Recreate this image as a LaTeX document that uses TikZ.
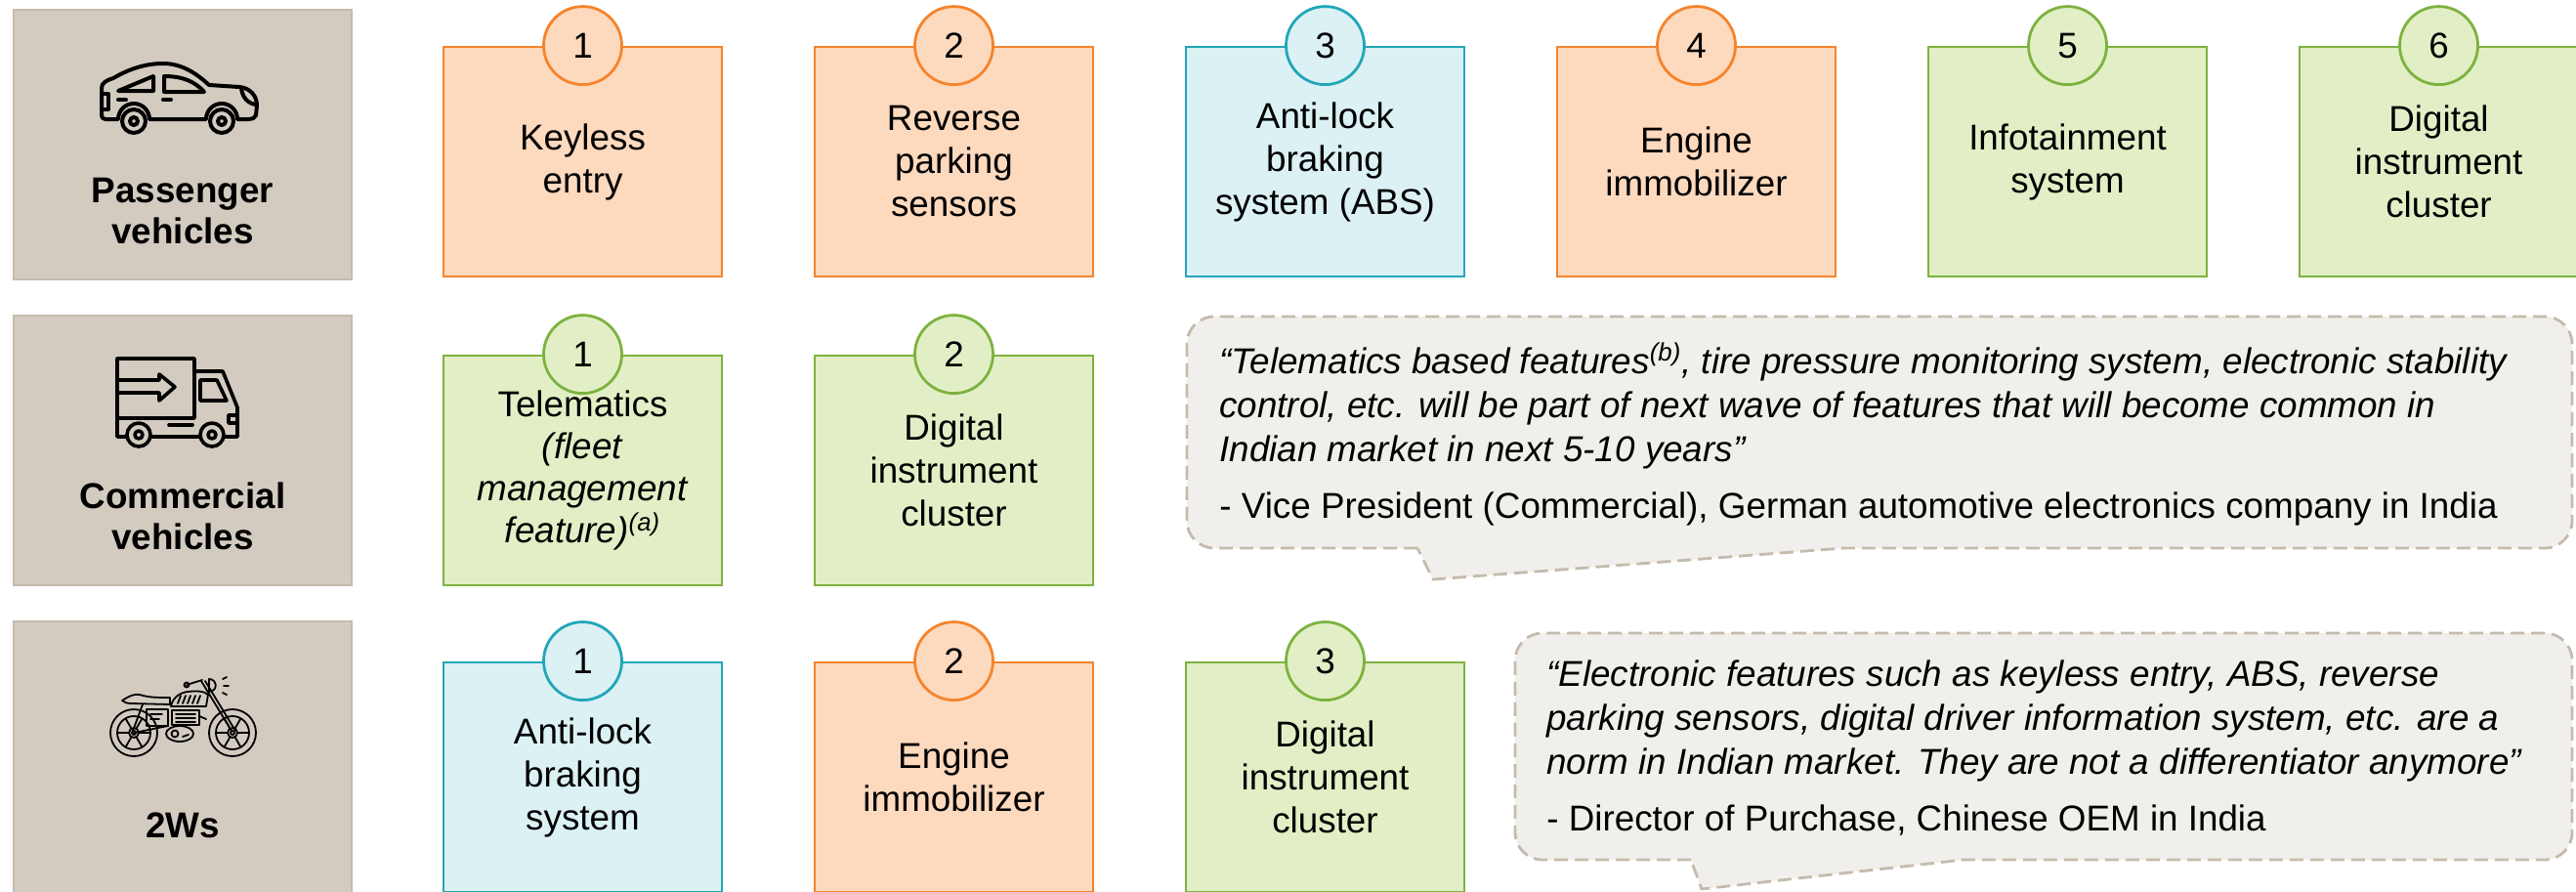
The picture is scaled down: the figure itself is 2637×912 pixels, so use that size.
\documentclass[tikz,border=0pt]{standalone}
\usepackage{fontspec}
\setmainfont{Liberation Sans}
\definecolor{catfill}{HTML}{D3CBC0}
\definecolor{catline}{HTML}{C5BBAD}
\definecolor{orfill}{HTML}{FDD9BE}
\definecolor{orline}{HTML}{F5842C}
\definecolor{blfill}{HTML}{DBF1F4}
\definecolor{blline}{HTML}{22A6B8}
\definecolor{grfill}{HTML}{E2EFC6}
\definecolor{grline}{HTML}{7DB23F}
\definecolor{qfill}{HTML}{F1EFEB}
\definecolor{qline}{HTML}{C4BBAC}
\begin{document}
\begin{tikzpicture}[x=0.5pt,y=-0.5pt,
  catbox/.style={draw=catline, fill=catfill, line width=1pt, minimum width=173pt, minimum height=138pt, inner sep=0pt},
  catlabel/.style={align=center, inner sep=0pt, font=\fontsize{18.4}{21}\selectfont\bfseries},
  feat/.style={line width=1.4pt, minimum width=142.5pt, minimum height=117.5pt, inner sep=0pt, align=center, font=\fontsize{18.4}{22}\selectfont},
  fb/.style={feat, draw=#1line, fill=#1fill},
  nc/.style={circle, line width=1.4pt, minimum size=40pt, inner sep=0pt, draw=#1line, fill=#1fill, font=\fontsize{18.4}{22}\selectfont},
  icon/.style={line width=2pt, line cap=round, line join=round},
  thinicon/.style={line width=0.9pt, line cap=round, line join=round},
  callout/.style={draw=qline, fill=qfill, line width=1.4pt, dash pattern=on 7pt off 3.5pt},
  qtext/.style={anchor=base west, inner sep=0pt, font=\fontsize{18.4}{22}\selectfont\itshape},
  qsource/.style={anchor=base west, inner sep=0pt, font=\fontsize{18.4}{22}\selectfont},
]
\useasboundingbox (0,0) rectangle (2637,912);

% ---------- category panels ----------
\node[catbox] (pv) at (187,148) {};
\node[catbox] (cv) at (187,461) {};
\node[catbox, minimum height=140pt] (tw) at (187,776) {};
\node[catlabel] (pvlabel) at (187,216) {Passenger\\vehicles};
\node[catlabel] (cvlabel) at (187,528) {Commercial\\vehicles};
\node[catlabel] (twlabel) at (187,845) {2Ws};

% car
\begin{scope}[icon]
  \draw (104,118) -- (104,90) .. controls (104,85) and (109,82) .. (116,80)
        .. controls (133,70) and (150,65) .. (167,65)
        .. controls (186,65) and (201,75) .. (214,87) -- (245,89)
        .. controls (256,90) and (263,98) .. (263,108) -- (262,118)
        .. controls (261,121) and (258,122) .. (255,122) -- (243,122)
        arc[start angle=0, end angle=-180, radius=16] -- (153,122)
        arc[start angle=0, end angle=-180, radius=16] -- (108,122)
        .. controls (105,122) and (104,120) .. (104,118);
  \draw (104,96) -- (111,96) -- (111,112) -- (104,112);
  \draw (121,93) -- (157,78) -- (157,93) -- cycle;
  \draw (168,78) -- (168,94) -- (209,94) .. controls (200,84) and (188,78) .. (168,78);
  \draw (121,102) -- (129,102);
  \draw (167,102) -- (175,102);
  \draw (247,90) .. controls (248,100) and (254,106) .. (262,107);
  \draw (137,124) circle[radius=12];
  \draw (137,124) circle[radius=4];
  \draw (227,124) circle[radius=12];
  \draw (227,124) circle[radius=4];
\end{scope}

% truck
\begin{scope}[icon, line width=1.8pt]
  \draw (120,367) rectangle (199,428);
  \draw (120,428) -- (120,447) -- (243,447) -- (243,417) -- (228,380) -- (199,380);
  \draw (120,389) -- (163,389) -- (163,383) -- (179,396) -- (163,410) -- (163,402) -- (120,402);
  \draw (205,389) -- (222,389) -- (232,410) -- (205,410) -- cycle;
  \draw (234,425) -- (243,425) -- (243,433) -- (234,433) -- cycle;
  \draw (173,435) -- (197,435);
  \draw[fill=catfill] (142,445) circle[radius=12];
  \draw (142,445) circle[radius=4];
  \draw[fill=catfill] (217,445) circle[radius=12];
  \draw (217,445) circle[radius=4];
\end{scope}

% motorcycle
\begin{scope}[thinicon]
  \foreach \cx in {137,238} {
    \draw (\cx,750) circle[radius=24];
    \draw (\cx,750) circle[radius=17];
    \draw (\cx,750) circle[radius=5];
    \draw (\cx,750) circle[radius=2];
    \foreach \a in {0,60,...,300} {
      \draw (\cx,750) ++(\a:5) -- ++(\a:12);
    }
  }
  % seat
  \draw (125,717) .. controls (133,712) and (138,710) .. (143,711)
        .. controls (152,714) and (162,714) .. (174,714) -- (174,721) -- (135,720)
        .. controls (130,720) and (127,719) .. (125,717);
  % tank
  \draw (175,723) .. controls (177,713) and (185,709) .. (192,708)
        .. controls (200,707) and (209,707) .. (213,711) -- (211,723) -- cycle;
  \foreach \hx in {182,187,192,197,202} {
    \draw (\hx,720) -- (\hx+3,712);
  }
  % fork and front end
  \draw (206,697) -- (237,748);
  \draw (210,697) -- (241,748);
  \draw (214,695) .. controls (222,695) and (224,707) .. (214,708) -- cycle;
  \draw (191,701) -- (207,696);
  \draw (191,701) circle[radius=2.5];
  \draw (228,695) -- (232,693);
  \draw (229,702) -- (234,702);
  \draw (228,709) -- (232,711);
  % frame, side panel, engine
  \draw (146,721) -- (136,748);
  \draw (137,750) -- (172,743);
  \draw (150,726) rectangle (172,743);
  \draw (154,731) -- (166,731);
  \draw (154,736) -- (163,736);
  \draw (176,727) rectangle (204,742);
  \foreach \fy in {731,735,739} {
    \draw (180,\fy) -- (200,\fy);
  }
  \draw (204,733) -- (211,736);
  \draw (184,751) ellipse[x radius=14, y radius=8];
  \draw (179,751) circle[radius=3.5];
  \draw (187,754) -- (193,752);
\end{scope}

% ---------- passenger vehicle features ----------
\node[fb=or] (pvA) at (596.5,165.5) {Keyless\\entry};
\node[fb=or] (pvB) at (976.5,165.5) {Reverse\\parking\\sensors};
\node[fb=bl] (pvC) at (1356.5,165.5) {Anti-lock\\braking\\system (ABS)};
\node[fb=or] (pvD) at (1736.5,165.5) {Engine\\immobilizer};
\node[fb=gr] (pvE) at (2116.5,165.5) {Infotainment\\system};
\node[fb=gr] (pvF) at (2496.5,165.5) {Digital\\instrument\\cluster};
\node[nc=or] (pvAn) at (pvA.north) {1};
\node[nc=or] (pvBn) at (pvB.north) {2};
\node[nc=bl] (pvCn) at (pvC.north) {3};
\node[nc=or] (pvDn) at (pvD.north) {4};
\node[nc=gr] (pvEn) at (pvE.north) {5};
\node[nc=gr] (pvFn) at (pvF.north) {6};

% ---------- commercial vehicle features ----------
\node[fb=gr, font=\fontsize{18.4}{21.5}\selectfont] (cvA) at (596.5,481.5) {Telematics\\\textit{(fleet}\\\textit{management}\\\textit{feature)\textsuperscript{(a)}}};
\node[fb=gr] (cvB) at (976.5,481.5) {Digital\\instrument\\cluster};
\node[nc=gr] (cvAn) at (cvA.north) {1};
\node[nc=gr] (cvBn) at (cvB.north) {2};

% ---------- two-wheeler features ----------
\node[fb=bl] (twA) at (596.5,795.5) {Anti-lock\\braking\\system};
\node[fb=or] (twB) at (976.5,795.5) {Engine\\immobilizer};
\node[fb=gr] (twC) at (1356.5,795.5) {Digital\\instrument\\cluster};
\node[nc=bl] (twAn) at (twA.north) {1};
\node[nc=or] (twBn) at (twB.north) {2};
\node[nc=gr] (twCn) at (twC.north) {3};

% ---------- quotes ----------
\draw[callout] (1451,561) -- (1243,561) arc[start angle=90, end angle=180, radius=28]
  -- (1215,352) arc[start angle=180, end angle=270, radius=28]
  -- (2605,324) arc[start angle=270, end angle=360, radius=28]
  -- (2633,533) arc[start angle=0, end angle=90, radius=28]
  -- (1888,561) -- (1467,593) -- cycle;
\node[qtext] (q1a) at (1248,382) {“Telematics based features\textsuperscript{(b)}, tire pressure monitoring system, electronic stability};
\node[qtext] (q1b) at (1248,427) {control, etc. will be part of next wave of features that will become common in};
\node[qtext] (q1c) at (1248,472) {Indian market in next 5-10 years”};
\node[qsource] (q1s) at (1248,530) {- Vice President (Commercial), German automotive electronics company in India};

\draw[callout] (1731,880) -- (1579,880) arc[start angle=90, end angle=180, radius=28]
  -- (1551,676) arc[start angle=180, end angle=270, radius=28]
  -- (2605,648) arc[start angle=270, end angle=360, radius=28]
  -- (2633,852) arc[start angle=0, end angle=90, radius=28]
  -- (2010,880) -- (1742,910) -- cycle;
\node[qtext] (q2a) at (1583,702) {“Electronic features such as keyless entry, ABS, reverse};
\node[qtext] (q2b) at (1583,747) {parking sensors, digital driver information system, etc. are a};
\node[qtext] (q2c) at (1583,792) {norm in Indian market. They are not a differentiator anymore”};
\node[qsource] (q2s) at (1583,850) {- Director of Purchase, Chinese OEM in India};
\end{tikzpicture}
\end{document}
